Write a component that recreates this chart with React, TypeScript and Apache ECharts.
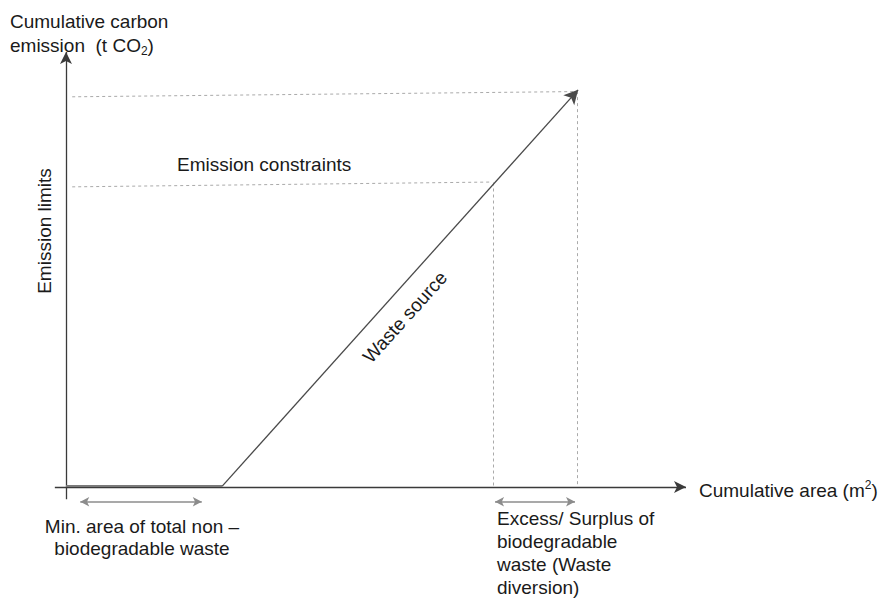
import React, { useEffect, useRef } from "react";
import * as echarts from "echarts";

// Conceptual diagram: data space 0..100 on both axes
const xExtent = [-2, 100];
const yExtent = [-4, 100];

const xAxisLine = [[-1.8, 0], [100, 0]];
const yAxisLine = [[0, -2.8], [0, 100]];
const baseLine = [[0, 0.4], [25.2, 0.4]];
const wasteSource = [[25.2, 0.2], [82.6, 91.3]];
const emissionLimitLine = [[1, 89.7], [82, 90.9]];
const emissionConstraintLine = [[1, 69.0], [68.4, 70.1]];
const constraintDrop = [[68.9, 70.0], [68.9, 0]];
const limitDrop = [[82.4, 91.0], [82.4, 0]];
const minAreaRange = [[2.3, -3.4], [21.9, -3.4]];
const excessRange = [[69.2, -3.4], [82.1, -3.4]];

const FONT = "'Liberation Sans', Arial, sans-serif";
const TEXT_COLOR = "#1a1a1a";
const FS = 19;

function seg(s: number[][]) {
  return [{ coord: s[0] }, { coord: s[1] }];
}

function mlSeries(
  name: string,
  segs: number[][][],
  symbol: string | string[],
  symbolSize: number | number[],
  lineStyle: any
) {
  return {
    name,
    type: "line",
    data: [],
    silent: true,
    clip: false,
    markLine: {
      silent: true,
      animation: false,
      symbol,
      symbolSize,
      label: { show: false },
      emphasis: { disabled: true },
      lineStyle,
      data: segs.map(seg),
    },
  };
}

export default function App() {
  const ref = useRef<HTMLDivElement>(null);
  useEffect(() => {
    if (!ref.current) return;
    const chart = echarts.init(ref.current, undefined, { renderer: "svg" });
    const textStyle = (extra: any) => ({
      fontFamily: FONT,
      fontSize: FS,
      fill: TEXT_COLOR,
      ...extra,
    });
    chart.setOption({
      animation: false,
      grid: { left: 53.6, top: 52, width: 632.4, height: 452.4, containLabel: false },
      xAxis: { type: "value", min: xExtent[0], max: xExtent[1], show: false },
      yAxis: { type: "value", min: yExtent[0], max: yExtent[1], show: false },
      series: [
        mlSeries("axes", [xAxisLine, yAxisLine], ["none", "arrow"], [9, 12], {
          color: "#3a3a3a",
          width: 1.3,
          type: "solid",
        }),
        mlSeries(
          "dashed",
          [emissionLimitLine, emissionConstraintLine, constraintDrop, limitDrop],
          "none",
          0,
          { color: "#aaaaaa", width: 1, type: [3, 3] }
        ),
        mlSeries("base", [baseLine], "none", 0, {
          color: "#7a7a7a",
          width: 2.2,
          type: "solid",
        }),
        mlSeries("waste", [wasteSource], ["none", "arrow"], [11, 14], {
          color: "#4a4a4a",
          width: 1.3,
          type: "solid",
        }),
        mlSeries("ranges", [minAreaRange, excessRange], ["arrow", "arrow"], [7, 9], {
          color: "#8c8c8c",
          width: 1.5,
          type: "solid",
        }),
      ],
      graphic: [
        {
          type: "text",
          x: 10,
          y: 21,
          style: textStyle({ text: "Cumulative carbon", align: "left", verticalAlign: "middle" }),
        },
        {
          type: "text",
          x: 10,
          y: 45,
          style: textStyle({
            text: "emission  (t CO{sub|2})",
            align: "left",
            verticalAlign: "middle",
            rich: { sub: { fontSize: 12, fontFamily: FONT, fill: TEXT_COLOR, padding: [11, 0, 0, 0] } },
          }),
        },
        {
          type: "text",
          x: 44,
          y: 231,
          rotation: Math.PI / 2,
          style: textStyle({ text: "Emission limits", align: "center", verticalAlign: "middle" }),
        },
        {
          type: "text",
          x: 177,
          y: 164,
          style: textStyle({ text: "Emission constraints", align: "left", verticalAlign: "middle" }),
        },
        {
          type: "text",
          x: 405,
          y: 317,
          rotation: (48 * Math.PI) / 180,
          style: textStyle({ text: "Waste source", align: "center", verticalAlign: "middle" }),
        },
        {
          type: "text",
          x: 699,
          y: 490,
          style: textStyle({
            text: "Cumulative area (m{sup|2})",
            align: "left",
            verticalAlign: "middle",
            rich: { sup: { fontSize: 12, fontFamily: FONT, fill: TEXT_COLOR, padding: [0, 0, 11, 0] } },
          }),
        },
        {
          type: "text",
          x: 142,
          y: 537,
          style: textStyle({
            text: "Min. area of total non \u2013\nbiodegradable waste",
            align: "center",
            verticalAlign: "middle",
            lineHeight: 22,
          }),
        },
        {
          type: "text",
          x: 497,
          y: 552.5,
          style: textStyle({
            text: "Excess/ Surplus of\nbiodegradable\nwaste (Waste\ndiversion)",
            align: "left",
            verticalAlign: "middle",
            lineHeight: 23,
          }),
        },
      ],
    });
    return () => chart.dispose();
  }, []);
  return (
    <div
      ref={ref}
      style={{ position: "absolute", left: 0, top: 0, width: 881, height: 598, background: "#fff" }}
    />
  );
}
